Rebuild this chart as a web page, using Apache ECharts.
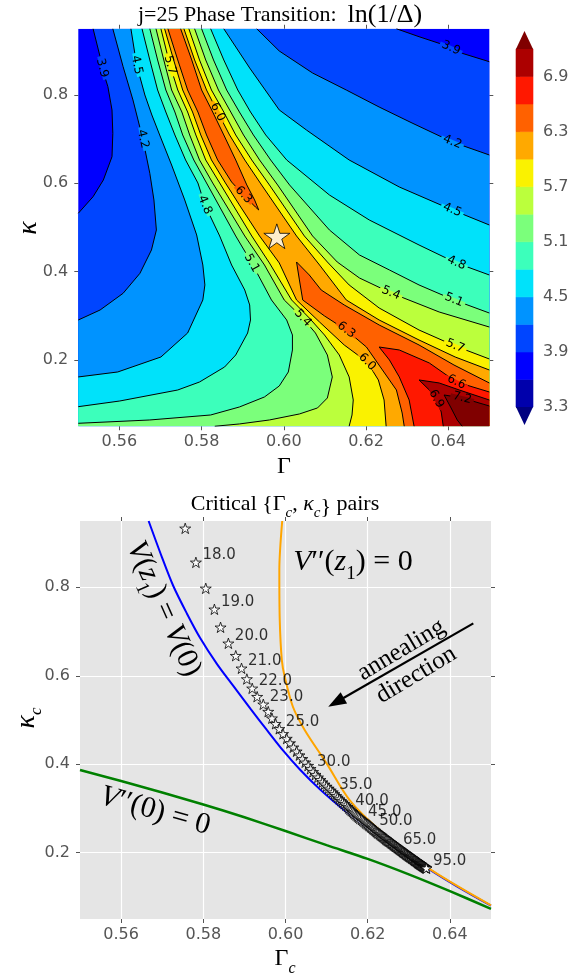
<!DOCTYPE html>
<html>
<head>
<meta charset="utf-8">
<script src="https://cdn.jsdelivr.net/npm/echarts@6.0.0/dist/echarts.min.js"></script>
<style>
html,body{margin:0;padding:0;background:#ffffff;}
#chart{width:585px;height:978px;}
</style>
</head>
<body>
<div id="chart"></div>
<script>
// ---------------- DATA ----------------
const gammaRange = [0.55, 0.65];
const kappaRange = [0.05, 0.95];
const gammaTicks = [0.56, 0.58, 0.60, 0.62, 0.64];
const kappaTicks = [0.2, 0.4, 0.6, 0.8];
const levels = [3.3, 3.6, 3.9, 4.2, 4.5, 4.8, 5.1, 5.4, 5.7, 6.0, 6.3, 6.6, 6.9, 7.2];
const colorbarTicks = [3.3, 3.9, 4.5, 5.1, 5.7, 6.3, 6.9];
const bandColors = ['#0000ac','#0000ff','#0045ff','#0093ff','#00e2fa','#3cffbb','#7bff7b','#bbff3c','#faf200','#ffa900','#ff6100','#ff1800','#ac0000'];
const underColor = '#000080';
const overColor = '#800000';

// contour lines of ln(1/Delta) (Gamma, kappa)
const c39L = [[0.5536,0.95],[0.5553,0.8867],[0.5558,0.8611],[0.5572,0.8188],[0.5582,0.7661],[0.5584,0.7133],[0.5582,0.6603],[0.5561,0.6076],[0.5536,0.5698],[0.55,0.5322]];
const c42L = [[0.5584,0.95],[0.5609,0.8641],[0.5633,0.7887],[0.5657,0.7004],[0.5674,0.6227],[0.5684,0.5623],[0.5690,0.4944],[0.5678,0.4491],[0.5650,0.3963],[0.5609,0.3510],[0.5553,0.3132],[0.55,0.2906]];
const c45L = [[0.5628,0.95],[0.5642,0.8679],[0.5662,0.8000],[0.5679,0.7547],[0.5698,0.7095],[0.5727,0.6415],[0.5759,0.5623],[0.5788,0.4831],[0.5803,0.4151],[0.5808,0.3699],[0.5803,0.3359],[0.5766,0.2611],[0.5701,0.2068],[0.5596,0.1729],[0.55,0.1616]];
const c48L = [[0.5655,0.95],[0.5674,0.8793],[0.5693,0.8113],[0.5713,0.7615],[0.5735,0.7095],[0.5761,0.6529],[0.5791,0.6008],[0.5808,0.5510],[0.5844,0.4808],[0.5873,0.4151],[0.5905,0.3585],[0.5917,0.3246],[0.5919,0.2906],[0.5912,0.2611],[0.5883,0.2113],[0.5856,0.1842],[0.5795,0.1502],[0.5742,0.1321],[0.5601,0.1072],[0.55,0.0943]];
const c51L = [[0.5674,0.95],[0.5693,0.8793],[0.5713,0.8113],[0.5735,0.7615],[0.5754,0.7095],[0.5781,0.6529],[0.5812,0.6008],[0.5883,0.4808],[0.5922,0.4197],[0.5970,0.3359],[0.6007,0.2906],[0.6021,0.2566],[0.6021,0.2227],[0.6011,0.1729],[0.5989,0.1412],[0.5953,0.1163],[0.5892,0.0936],[0.5822,0.0755],[0.5674,0.0642],[0.55,0.0567]];
const c54L = [[0.5689,0.95],[0.5708,0.8793],[0.5727,0.8113],[0.5752,0.7615],[0.5771,0.7095],[0.5795,0.6529],[0.5827,0.6008],[0.5905,0.4808],[0.5953,0.4151],[0.6001,0.3359],[0.6046,0.2951],[0.6077,0.2611],[0.6106,0.2113],[0.6118,0.1616],[0.6106,0.1140],[0.6082,0.0914],[0.6038,0.0778],[0.5965,0.0642],[0.5892,0.0552],[0.5832,0.05]];
const c57L = [[0.5701,0.95],[0.5723,0.8679],[0.5742,0.8113],[0.5766,0.7615],[0.5786,0.7095],[0.5810,0.6529],[0.5844,0.6008],[0.5922,0.4808],[0.5965,0.4197],[0.6019,0.3359],[0.6062,0.2951],[0.6099,0.2566],[0.6135,0.2113],[0.6159,0.1616],[0.6169,0.1095],[0.6166,0.0755],[0.6159,0.05]];
const c60L = [[0.5710,0.95],[0.5732,0.8793],[0.5754,0.8113],[0.5778,0.7615],[0.5798,0.7095],[0.5824,0.6529],[0.5858,0.6008],[0.5892,0.5510],[0.5941,0.4808],[0.5989,0.4197],[0.6031,0.3359],[0.6087,0.2860],[0.6147,0.2340],[0.6203,0.1955],[0.6230,0.1548],[0.6244,0.1095],[0.6249,0.05]];
const c63U = [[0.5718,0.95],[0.5742,0.8793],[0.5766,0.8113],[0.5791,0.7615],[0.5812,0.7095],[0.5839,0.6529],[0.5873,0.6030],[0.5902,0.5736],[0.5931,0.5464],[0.5939,0.5397],[0.5929,0.5623],[0.5910,0.5963],[0.5883,0.6529],[0.5854,0.7095],[0.5827,0.7615],[0.5800,0.8113],[0.5776,0.8793],[0.5749,0.95]];
const c63L = [[0.6293,0.05],[0.6288,0.0800],[0.6274,0.1321],[0.6240,0.1774],[0.6201,0.2294],[0.6152,0.2679],[0.6099,0.2997],[0.6046,0.3359],[0.6038,0.3812],[0.6031,0.4219],[0.6062,0.3925],[0.6091,0.3585],[0.6147,0.3246],[0.6232,0.2793],[0.6329,0.2340],[0.6414,0.1887],[0.65,0.1480]];
const c66 = [[0.6317,0.05],[0.6305,0.1095],[0.6281,0.1616],[0.6257,0.2000],[0.6232,0.2294],[0.6281,0.2227],[0.6354,0.1933],[0.6420,0.1502],[0.65,0.1276]];
const c69 = [[0.6388,0.05],[0.6383,0.0823],[0.6371,0.1118],[0.6354,0.1321],[0.6329,0.1548],[0.6378,0.1480],[0.6427,0.1321],[0.65,0.1095]];
const c72 = [[0.6434,0.05],[0.6422,0.0642],[0.6407,0.0914],[0.6390,0.1208],[0.6434,0.1140],[0.65,0.0959]];
const c60R = [[0.5757,0.95],[0.5783,0.8793],[0.5812,0.8113],[0.5839,0.7615],[0.5868,0.7095],[0.5905,0.6529],[0.5946,0.5963],[0.6031,0.4808],[0.6087,0.4151],[0.6152,0.3359],[0.6232,0.2906],[0.6329,0.2453],[0.6417,0.2068],[0.65,0.1774]];
const c57R = [[0.5769,0.95],[0.5795,0.8793],[0.5824,0.8113],[0.5854,0.7615],[0.5883,0.7095],[0.5922,0.6529],[0.5965,0.5963],[0.6050,0.4808],[0.6106,0.4219],[0.6159,0.3699],[0.6232,0.3178],[0.6329,0.2679],[0.6417,0.2317],[0.65,0.2023]];
const c54R = [[0.5783,0.95],[0.5810,0.8793],[0.5841,0.8113],[0.5871,0.7615],[0.5902,0.7095],[0.5941,0.6529],[0.5985,0.5963],[0.6070,0.4808],[0.6130,0.4219],[0.6184,0.3857],[0.6261,0.3517],[0.6378,0.3087],[0.65,0.2747]];
const c51R = [[0.5800,0.95],[0.5829,0.8793],[0.5861,0.8113],[0.5892,0.7615],[0.5926,0.7095],[0.5968,0.6529],[0.6014,0.5963],[0.6111,0.4944],[0.6184,0.4378],[0.6257,0.4038],[0.6329,0.3699],[0.6414,0.3359],[0.65,0.3064]];
const c48R = [[0.5822,0.95],[0.5854,0.8793],[0.5888,0.8113],[0.5919,0.7615],[0.5956,0.7095],[0.6007,0.6529],[0.6111,0.5736],[0.6208,0.5170],[0.6329,0.4604],[0.6420,0.4197],[0.65,0.3925]];
const c45R = [[0.5854,0.95],[0.5917,0.8611],[0.5989,0.7661],[0.6055,0.7208],[0.6159,0.6529],[0.6281,0.5917],[0.6410,0.5397],[0.65,0.5057]];
const c42R = [[0.5934,0.95],[0.5989,0.8996],[0.6070,0.8498],[0.6152,0.8113],[0.6232,0.7728],[0.6312,0.7366],[0.6410,0.6936],[0.65,0.6642]];
const c39R = [[0.6274,0.95],[0.6329,0.932],[0.6378,0.917],[0.6407,0.9064],[0.6434,0.8944],[0.65,0.8754]];

// transition point shown in the top panel (j = 25)
const transitionPoint = [0.5983, 0.4802];

// bottom panel: critical pairs, j = 17.5 ... 95 (step 0.5)
const starGamma = [0.5756,0.5782,0.5806,0.5827,0.5842,0.5861,0.5879,0.5893,0.5906,0.5919,0.5931,0.5946,0.5958,0.5967,0.5976,0.5985,
 0.5994,0.6003,0.6011,0.6019,0.6027,0.6034,0.6041,0.6048,0.6055,0.6061,
 0.6067,0.6073,0.6079,0.6085,0.6090,0.6095,0.6100,0.6105,0.6110,0.6115,
 0.6119,0.6123,0.6127,0.6131,0.6135,0.6139,0.6143,0.6147,0.6151,0.6154,
 0.6157,0.6160,0.6163,0.6166,0.6169,0.6172,0.6175,0.6178,0.6181,0.6185,
 0.6188,0.6191,0.6194,0.6196,0.6199,0.6202,0.6204,0.6207,0.6209,0.6212,
 0.6214,0.6217,0.6219,0.6221,0.6223,0.6225,0.6228,0.6230,0.6232,0.6234,
 0.6236,0.6238,0.6240,0.6242,0.6244,0.6245,0.6247,0.6249,0.6251,0.6253,
 0.6255,0.6257,0.6258,0.6260,0.6262,0.6263,0.6265,0.6267,0.6268,0.6270,
 0.6272,0.6273,0.6275,0.6276,0.6278,0.6279,0.6281,0.6282,0.6284,0.6285,
 0.6286,0.6288,0.6289,0.6291,0.6292,0.6293,0.6295,0.6296,0.6298,0.6299,
 0.6300,0.6302,0.6303,0.6304,0.6306,0.6307,0.6308,0.6309,0.6311,0.6312,
 0.6313,0.6314,0.6315,0.6316,0.6318,0.6319,0.6320,0.6321,0.6322,0.6323,
 0.6324,0.6325,0.6326,0.6327,0.6328,0.6329,0.6330,0.6331,0.6332,0.6333,
 0.6334,0.6335,0.6336,0.6337,0.6338,0.6339,0.6340,0.6341,0.6342,0.6343];
const starKappa = [0.9334,0.8565,0.7977,0.7503,0.7096,0.6734,0.6454,0.6169,0.5927,0.5716,0.5527,0.5355,0.5190,0.5040,0.4915,0.4800,
 0.4687,0.4580,0.4479,0.4383,0.4292,0.4205,0.4122,0.4043,0.3968,0.3896,
 0.3828,0.3764,0.3704,0.3648,0.3595,0.3545,0.3498,0.3453,0.3410,0.3369,
 0.3327,0.3287,0.3249,0.3212,0.3176,0.3141,0.3107,0.3073,0.3040,0.3007,
 0.2979,0.2952,0.2925,0.2899,0.2873,0.2847,0.2822,0.2797,0.2773,0.2749,
 0.2727,0.2706,0.2685,0.2664,0.2644,0.2624,0.2604,0.2584,0.2564,0.2545,
 0.2527,0.2509,0.2492,0.2475,0.2459,0.2443,0.2427,0.2412,0.2397,0.2382,
 0.2368,0.2354,0.2340,0.2326,0.2312,0.2299,0.2286,0.2273,0.2260,0.2247,
 0.2235,0.2223,0.2211,0.2199,0.2187,0.2175,0.2163,0.2151,0.2140,0.2129,
 0.2119,0.2109,0.2098,0.2088,0.2078,0.2068,0.2058,0.2047,0.2037,0.2027,
 0.2017,0.2007,0.1998,0.1988,0.1978,0.1968,0.1958,0.1949,0.1939,0.1929,
 0.1921,0.1913,0.1905,0.1897,0.1889,0.1880,0.1872,0.1864,0.1856,0.1848,
 0.1840,0.1832,0.1824,0.1816,0.1809,0.1801,0.1793,0.1785,0.1777,0.1769,
 0.1763,0.1757,0.1750,0.1744,0.1738,0.1732,0.1726,0.1720,0.1713,0.1707,
 0.1701,0.1695,0.1689,0.1683,0.1677,0.1671,0.1665,0.1659,0.1653,0.1647];
const starLabels = [['18.0',0.5782,0.8565],['19.0',0.5827,0.7503],['20.0',0.5861,0.6734],['21.0',0.5893,0.6169],['22.0',0.5919,0.5716],['23.0',0.5946,0.5355],['25.0',0.5985,0.4800],['30.0',0.6061,0.3896],['35.0',0.6115,0.3369],['40.0',0.6154,0.3007],['45.0',0.6185,0.2749],['50.0',0.6212,0.2545],['65.0',0.6270,0.2129],['95.0',0.6343,0.1647]];

// boundary curves
const curveEqualV = [[0.5667,0.95],[0.5699,0.869],[0.5727,0.803],[0.5760,0.741],[0.5792,0.686],[0.5833,0.627],[0.5873,0.577],[0.5915,0.525],[0.5955,0.477],[0.5995,0.430],[0.6035,0.388],[0.6085,0.342],[0.6140,0.298],[0.6200,0.256],[0.6260,0.217],[0.6343,0.166],[0.6420,0.122],[0.65,0.080]];
const curveV2z1 = [[0.5992,0.95],[0.5985,0.839],[0.5986,0.726],[0.5991,0.636],[0.5998,0.598],[0.6018,0.530],[0.6047,0.477],[0.6100,0.402],[0.6156,0.319],[0.6229,0.251],[0.6343,0.168],[0.65,0.081]];
const curveV20 = [[0.55,0.387],[0.56,0.362],[0.57,0.336],[0.58,0.309],[0.59,0.280],[0.60,0.249],[0.61,0.217],[0.62,0.186],[0.63,0.151],[0.64,0.113],[0.65,0.073]];

// annotation anchors in data coordinates
const arrowFrom = [0.6457, 0.7186];
const arrowTo = [0.6104, 0.5300];
const notes = [
  {g:0.5697, k:0.7487, rot:-66, text:'{i|V}{n|(}{i|z}{s|1}{n|) = }{i|V}{n|(0)}'},
  {g:0.6164, k:0.8504, rot:0, text:'{i|V}{n|\u2032\u2032(}{i|z}{s|1}{n|) = 0}'},
  {g:0.5681, k:0.2872, rot:-16, text:'{i|V}{n|\u2032\u2032(0) = 0}'},
  {g:0.6300, k:0.6300, rot:31, text:'{r|annealing}\n{r|direction}'}
];

// ---------------- BUILD ----------------
const SANS = 'DejaVu Sans';
const SERIF = 'Liberation Serif';
const TICK = '#555555';
const STAR = 'path://M50,0L61.23,34.55L97.55,34.55L68.17,55.9L79.39,90.45L50,69.1L20.61,90.45L31.83,55.9L2.45,34.55L38.77,34.55Z';

function bandColor(lv) {
  const i = levels.findIndex(l => Math.abs(l - lv) < 1e-9);
  return i < levels.length - 1 ? bandColors[i] : overColor;
}
const contours = [
  {pts:c39L, lv:3.9, li:2}, {pts:c42L, lv:4.2, li:3}, {pts:c45L, lv:4.5, li:1}, {pts:c48L, lv:4.8, li:7},
  {pts:c51L, lv:5.1, li:8}, {pts:c54L, lv:5.4, li:10}, {pts:c57L, lv:5.7, li:1}, {pts:c60L, lv:6.0, li:13},
  {pts:c63U, lv:6.3, li:7}, {pts:c63L, lv:6.3, li:5}, {pts:c66, lv:6.6, li:7}, {pts:c69, lv:6.9, li:2}, {pts:c72, lv:7.2, li:4},
  {pts:c39R, lv:3.9, li:3}, {pts:c42R, lv:4.2, li:6}, {pts:c45R, lv:4.5, li:6}, {pts:c48R, lv:4.8, li:9},
  {pts:c51R, lv:5.1, li:11}, {pts:c54R, lv:5.4, li:10}, {pts:c57R, lv:5.7, li:12}, {pts:c60R, lv:6.0, li:3}
];
const TL = [gammaRange[0], kappaRange[1]], TR = [gammaRange[1], kappaRange[1]];
const BL = [gammaRange[0], kappaRange[0]], BR = [gammaRange[1], kappaRange[0]];
const rev = a => a.slice().reverse();
const regions = [
  {lv:3.6, pts:[TL, TR, BR, BL]},
  {lv:3.9, pts:[...c39L, BL, BR, ...rev(c39R)]},
  {lv:4.2, pts:[...c42L, BL, BR, ...rev(c42R)]},
  {lv:4.5, pts:[...c45L, BL, BR, ...rev(c45R)]},
  {lv:4.8, pts:[...c48L, BL, BR, ...rev(c48R)]},
  {lv:5.1, pts:[...c51L, BL, BR, ...rev(c51R)]},
  {lv:5.4, pts:[...c54L, BR, ...rev(c54R)]},
  {lv:5.7, pts:[...c57L, BR, ...rev(c57R)]},
  {lv:6.0, pts:[...c60L, BR, ...rev(c60R)]},
  {lv:6.3, pts:c63U},
  {lv:6.3, pts:[...c63L, BR]},
  {lv:6.6, pts:[...c66, BR]},
  {lv:6.9, pts:[...c69, BR]},
  {lv:7.2, pts:[...c72, BR]}
];
const ext = 0.05 * (levels[levels.length - 1] - levels[0]);

function xAxis(grid, pos, showLabel, split) {
  return {type:'value', gridIndex:grid, position:pos, min:gammaRange[0], max:gammaRange[1],
    axisLine:{show:false},
    splitLine:{show:!!split, lineStyle:{color:'#ffffff', width:1.2}},
    axisTick:{show:true, inside:false, length:4, lineStyle:{color:TICK}, customValues:gammaTicks},
    axisLabel:{show:showLabel, customValues:gammaTicks, formatter:v=>v.toFixed(2), color:TICK, fontFamily:SANS, fontSize:16, margin:8}};
}
function yAxis(grid, pos, showLabel, split) {
  return {type:'value', gridIndex:grid, position:pos, min:kappaRange[0], max:kappaRange[1],
    axisLine:{show:false},
    splitLine:{show:!!split, lineStyle:{color:'#ffffff', width:1.2}},
    axisTick:{show:true, inside:false, length:4, lineStyle:{color:TICK}, customValues:kappaTicks},
    axisLabel:{show:showLabel, customValues:kappaTicks, formatter:v=>v.toFixed(1), color:TICK, fontFamily:SANS, fontSize:16, margin:10}};
}

const series = [];
// filled contour bands
series.push({type:'custom', xAxisIndex:0, yAxisIndex:0, clip:true, silent:true, z:1,
  data: regions.map((r, i) => [r.pts[0][0], r.pts[0][1], i]), encode:{x:0, y:1},
  renderItem:(p, api) => {
    const r = regions[api.value(2)];
    return {type:'polygon', shape:{points:r.pts.map(q => api.coord(q))}, style:{fill:bandColor(r.lv)}};
  }});
// contour lines
contours.forEach(c => series.push({type:'line', xAxisIndex:0, yAxisIndex:0, data:c.pts, symbol:'none',
  lineStyle:{color:'#000', width:1}, silent:true, z:2, clip:true}));
// contour labels
series.push({type:'custom', xAxisIndex:0, yAxisIndex:0, clip:false, silent:true, z:3,
  data: contours.map((c, i) => [c.pts[c.li][0], c.pts[c.li][1], i]), encode:{x:0, y:1},
  renderItem:(p, api) => {
    const c = contours[api.value(2)];
    const q = api.coord(c.pts[c.li]);
    const a = api.coord(c.pts[c.li - 1]), b = api.coord(c.pts[c.li + 1]);
    let ang = Math.atan2(-(b[1] - a[1]), b[0] - a[0]);
    if (ang > Math.PI / 2) ang -= Math.PI;
    if (ang < -Math.PI / 2) ang += Math.PI;
    return {type:'group', x:q[0], y:q[1], rotation:ang, children:[
      {type:'rect', shape:{x:-12, y:-2, width:24, height:4}, style:{fill:bandColor(c.lv)}},
      {type:'text', style:{x:0, y:0, text:c.lv.toFixed(1), align:'center', verticalAlign:'middle', fill:'#000', fontFamily:SANS, fontSize:12}}
    ]};
  }});
// transition star
series.push({type:'scatter', xAxisIndex:0, yAxisIndex:0, data:[transitionPoint], symbol:STAR, symbolSize:26, symbolKeepAspect:true,
  itemStyle:{color:'#ffffff', borderColor:'#000', borderWidth:1}, z:4, silent:true});
// colorbar
const nb = levels.length - 1;
series.push({type:'custom', xAxisIndex:4, yAxisIndex:4, clip:false, silent:true,
  data: Array.from({length:nb + 2}, (_, i) => [0.5, i < nb ? levels[i] : levels[0], i]), encode:{x:0, y:1},
  renderItem:(p, api) => {
    const i = api.value(2);
    if (i < nb) {
      const a = api.coord([0, levels[i + 1]]), b = api.coord([1, levels[i]]);
      return {type:'rect', shape:{x:a[0], y:a[1], width:b[0] - a[0], height:b[1] - a[1]}, style:{fill:bandColors[i], stroke:bandColors[i], lineWidth:0.6}};
    }
    if (i === nb) {
      const pts = [[0, levels[0]], [1, levels[0]], [0.5, levels[0] - ext]].map(q => api.coord(q));
      return {type:'polygon', shape:{points:pts}, style:{fill:underColor}};
    }
    const t = levels[nb];
    const pts = [[0, t], [1, t], [0.5, t + ext]].map(q => api.coord(q));
    return {type:'polygon', shape:{points:pts}, style:{fill:overColor}};
  }});
// bottom panel curves
series.push({type:'line', xAxisIndex:2, yAxisIndex:2, data:curveEqualV, symbol:'none', smooth:0.3, lineStyle:{color:'#0000ff', width:2}, z:2, silent:true});
series.push({type:'line', xAxisIndex:2, yAxisIndex:2, data:curveV2z1, symbol:'none', smooth:0.3, lineStyle:{color:'#ffa500', width:2}, z:2, silent:true});
series.push({type:'line', xAxisIndex:2, yAxisIndex:2, data:curveV20, symbol:'none', smooth:0.3, lineStyle:{color:'#008000', width:2.5}, z:2, silent:true});
// stars
series.push({type:'scatter', xAxisIndex:2, yAxisIndex:2, data:starGamma.map((g, i) => [g, starKappa[i]]),
  symbol:STAR, symbolSize:11, symbolKeepAspect:true, itemStyle:{color:'#ffffff', borderColor:'#000', borderWidth:1}, z:4, silent:true});
// star labels
series.push({type:'scatter', xAxisIndex:2, yAxisIndex:2, symbolSize:1, itemStyle:{color:'rgba(0,0,0,0)'}, z:5, silent:true,
  data: starLabels.map(l => ({name:l[0], value:[l[1], l[2]]})),
  label:{show:true, formatter:'{b}', position:'right', distance:6, offset:[0, -7], color:'#000', fontFamily:SANS, fontSize:15}});
// annotations
const mathRich = {
  i:{fontFamily:SERIF, fontStyle:'italic', fontSize:30, lineHeight:36, verticalAlign:'top', color:'#000'},
  n:{fontFamily:SERIF, fontSize:30, lineHeight:36, verticalAlign:'top', color:'#000'},
  s:{fontFamily:SERIF, fontSize:19, lineHeight:19, verticalAlign:'bottom', color:'#000'},
  r:{fontFamily:SERIF, fontSize:25, lineHeight:29, color:'#000'}
};
series.push({type:'custom', xAxisIndex:2, yAxisIndex:2, clip:false, silent:true, z:6,
  data: notes.map((n, i) => [n.g, n.k, i]), encode:{x:0, y:1},
  renderItem:(p, api) => {
    const n = notes[api.value(2)];
    const q = api.coord([n.g, n.k]);
    return {type:'text', x:q[0], y:q[1], rotation:n.rot * Math.PI / 180,
      style:{x:0, y:0, text:n.text, rich:mathRich, align:'center', verticalAlign:'middle', fill:'#000', fontFamily:SERIF, fontSize:25}};
  }});
// arrow
series.push({type:'custom', xAxisIndex:2, yAxisIndex:2, clip:false, silent:true, z:6,
  data:[[arrowFrom[0], arrowFrom[1]]], encode:{x:0, y:1},
  renderItem:(p, api) => {
    const a = api.coord(arrowFrom), b = api.coord(arrowTo);
    const dx = b[0] - a[0], dy = b[1] - a[1], L = Math.hypot(dx, dy);
    const ux = dx / L, uy = dy / L, nx = -uy, ny = ux;
    const hl = 18, hw = 6.5;
    const bx = b[0] - ux * hl, by = b[1] - uy * hl;
    return {type:'group', children:[
      {type:'line', shape:{x1:a[0], y1:a[1], x2:bx + ux * 2, y2:by + uy * 2}, style:{stroke:'#000', lineWidth:2.2}},
      {type:'polygon', shape:{points:[[b[0], b[1]], [bx + nx * hw, by + ny * hw], [bx - nx * hw, by - ny * hw]]}, style:{fill:'#000'}}
    ]};
  }});

const option = {
  animation:false,
  backgroundColor:'#ffffff',
  grid:[
    {left:78.3, top:28.75, width:411, height:397.5},
    {left:80, top:521, width:411, height:398, show:true, backgroundColor:'#e5e5e5', borderWidth:0},
    {left:516, top:31, width:17, height:394}
  ],
  xAxis:[
    xAxis(0, 'bottom', true, false), xAxis(0, 'top', false, false),
    xAxis(1, 'bottom', true, true), xAxis(1, 'top', false, false),
    {type:'value', gridIndex:2, min:0, max:1, show:false}
  ],
  yAxis:[
    yAxis(0, 'left', true, false), yAxis(0, 'right', false, false),
    yAxis(1, 'left', true, true), yAxis(1, 'right', false, false),
    {type:'value', gridIndex:2, position:'right', min:levels[0] - ext, max:levels[nb] + ext,
     axisLine:{show:false}, splitLine:{show:false},
     axisTick:{show:true, inside:false, length:4, lineStyle:{color:TICK}, customValues:colorbarTicks},
     axisLabel:{customValues:colorbarTicks, formatter:v=>v.toFixed(1), color:TICK, fontFamily:SANS, fontSize:16, margin:10}}
  ],
  graphic:[
    {type:'text', x:280, y:15, style:{text:'{a|j=25 Phase Transition:  }{b|ln(1/\u0394)}',
      rich:{a:{fontFamily:SERIF, fontSize:22, color:'#000'}, b:{fontFamily:SERIF, fontSize:26, color:'#000'}},
      align:'center', verticalAlign:'middle'}},
    {type:'text', x:284, y:467, style:{text:'\u0393', fontFamily:SERIF, fontSize:24, fill:'#000', align:'center', verticalAlign:'middle'}},
    {type:'text', x:29, y:228, rotation:Math.PI / 2, style:{text:'\u03ba', fontFamily:SERIF, fontStyle:'italic', fontSize:28, fill:'#000', align:'center', verticalAlign:'middle'}},
    {type:'text', x:285, y:507, style:{text:'{a|Critical {\u0393}{s|c}{a|, }{k|\u03ba}{s|c}}{a| pairs}',
      fontFamily:SERIF, fontSize:22, lineHeight:28, fill:'#000',
      rich:{a:{fontFamily:SERIF, fontSize:22, lineHeight:28, verticalAlign:'top', color:'#000'},
            k:{fontFamily:SERIF, fontStyle:'italic', fontSize:22, lineHeight:28, verticalAlign:'top', color:'#000'},
            s:{fontFamily:SERIF, fontStyle:'italic', fontSize:15, lineHeight:15, verticalAlign:'bottom', color:'#000'}},
      align:'center', verticalAlign:'middle'}},
    {type:'text', x:285, y:962, style:{text:'{g|\u0393}{s|c}',
      rich:{g:{fontFamily:SERIF, fontSize:24, lineHeight:30, verticalAlign:'top', color:'#000'},
            s:{fontFamily:SERIF, fontStyle:'italic', fontSize:16, lineHeight:16, verticalAlign:'bottom', color:'#000'}},
      align:'center', verticalAlign:'middle'}},
    {type:'text', x:29, y:718, rotation:Math.PI / 2, style:{text:'{g|\u03ba}{s|c}',
      rich:{g:{fontFamily:SERIF, fontStyle:'italic', fontSize:28, lineHeight:32, verticalAlign:'top', color:'#000'},
            s:{fontFamily:SERIF, fontStyle:'italic', fontSize:17, lineHeight:17, verticalAlign:'bottom', color:'#000'}},
      align:'center', verticalAlign:'middle'}}
  ],
  series
};
const chart = echarts.init(document.getElementById('chart'), null, {renderer:'canvas'});
chart.setOption(option);
</script>
</body>
</html>
